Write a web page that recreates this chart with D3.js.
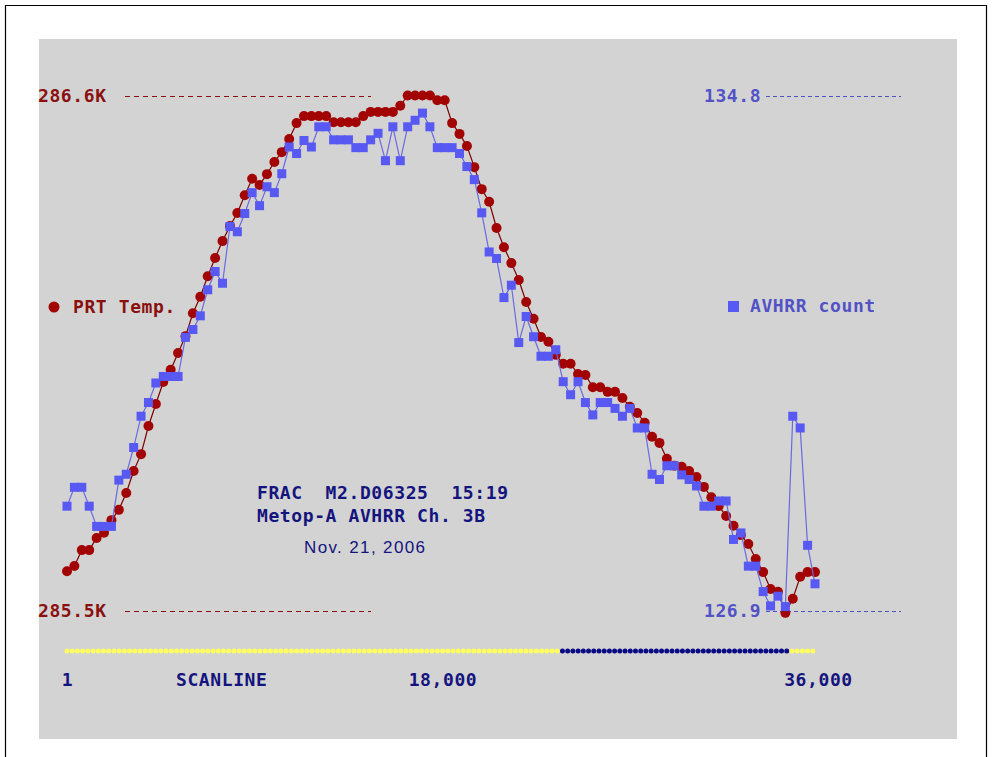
<!DOCTYPE html>
<html>
<head>
<meta charset="utf-8">
<script src="https://cdn.jsdelivr.net/npm/d3@7"></script>
<style>
  html, body { margin: 0; padding: 0; background: #fff; }
  svg { display: block; }
  .mono { font-family: "DejaVu Sans Mono", "Liberation Mono", monospace; font-weight: bold; font-size: 18px; letter-spacing: 0.6px; white-space: pre; }
</style>
</head>
<body>
<svg id="chart" width="992" height="757"></svg>
<script>
// PRT temperature vs. AVHRR Ch. 3B count along one orbit, sampled every 355 scanlines
const sampleStep = 355;

const prtTemp = [
  285.584, 285.595, 285.629, 285.629, 285.655, 285.666, 285.693, 285.715, 285.751, 285.798,
  285.834, 285.894, 285.941, 285.988, 286.014, 286.050, 286.086, 286.135, 286.170, 286.214,
  286.253, 286.289, 286.321, 286.349, 286.387, 286.422, 286.409, 286.432, 286.458, 286.479,
  286.507, 286.541, 286.556, 286.556, 286.556, 286.556, 286.543, 286.543, 286.543, 286.543,
  286.556, 286.565, 286.565, 286.565, 286.565, 286.578, 286.600, 286.600, 286.600, 286.600,
  286.590, 286.590, 286.541, 286.518, 286.492, 286.447, 286.400, 286.373, 286.317, 286.276,
  286.242, 286.206, 286.159, 286.123, 286.084, 286.074, 286.046, 286.027, 286.027, 286.005,
  286.003, 285.977, 285.977, 285.967, 285.967, 285.954, 285.935, 285.922, 285.901, 285.871,
  285.858, 285.824, 285.809, 285.807, 285.798, 285.785, 285.764, 285.742, 285.723, 285.702,
  285.681, 285.661, 285.642, 285.610, 285.582, 285.546, 285.540, 285.495, 285.525, 285.572,
  285.582, 285.582
];

const avhrrCount = [
  128.50, 128.79, 128.79, 128.50, 128.19, 128.19, 128.19, 128.90, 128.99, 129.40,
  129.88, 130.09, 130.39, 130.49, 130.49, 130.49, 131.09, 131.21, 131.42, 131.82,
  132.10, 131.92, 132.79, 132.71, 132.99, 133.31, 133.11, 133.40, 133.31, 133.60,
  134.01, 133.91, 134.11, 134.01, 134.32, 134.32, 134.12, 134.12, 134.12, 134.00,
  134.00, 134.12, 134.22, 133.80, 134.32, 133.80, 134.32, 134.42, 134.53, 134.32,
  134.00, 134.00, 134.00, 133.91, 133.71, 133.51, 133.00, 132.40, 132.30, 131.70,
  131.89, 131.01, 131.41, 131.10, 130.80, 130.80, 130.90, 130.41, 130.21, 130.41,
  130.09, 129.90, 130.09, 130.09, 130.00, 129.88, 130.00, 129.70, 129.70, 128.99,
  128.91, 129.12, 129.12, 128.98, 128.91, 128.81, 128.50, 128.50, 128.58, 128.58,
  127.99, 128.09, 127.58, 127.58, 127.19, 126.97, 127.12, 126.96, 129.88, 129.70,
  127.90, 127.31
];

// Scanline ticks along the bottom
const scanTicks = [1, 18000, 36000];
const scanTickLabels = ["1", "18,000", "36,000"];

// Temperature (left) and count (right) reference levels
const tempTicks = [286.6, 285.5];
const tempTickLabels = ["286.6K", "285.5K"];
const countTicks = [134.8, 126.9];
const countTickLabels = ["134.8", "126.9"];

// Scanline status strip: runs of scanlines and their flag (0 = day, 1 = night)
const flagFrom = [1, 23751, 34751];
const flagTo   = [23501, 34501, 35751];
const flagCode = [0, 1, 0];
const flagStep = 250;

const titleLines = ["FRAC  M2.D06325  15:19", "Metop-A AVHRR Ch. 3B"];
const dateLine = "Nov. 21, 2006";

// ---------------------------------------------------------------
const RED = "#a20404", RED_DARK = "#8a1010", RED_LINE = "#7a0000";
const BLUE = "#5858f2", BLUE_LINE = "#6a6ae0", BLUE_TEXT = "#5252c6";
const NAVY = "#14147e";

const svg = d3.select("#chart");

// frame and panel
svg.append("path")
  .attr("d", "M5.5,757 V5.5 H986.5 V757")
  .attr("fill", "none").attr("stroke", "#000").attr("stroke-width", 1.2);
svg.append("rect")
  .attr("x", 39).attr("y", 39).attr("width", 918).attr("height", 700)
  .attr("fill", "#d3d3d3");

const x = d3.scaleLinear().domain([1, 36000]).range([67, 818]);
const yT = d3.scaleLinear().domain([285.5, 286.6]).range([610.5, 95.5]);
const yC = d3.scaleLinear().domain([126.9, 134.8]).range([610.5, 95.5]);

const scanOf = i => 1 + i * sampleStep;

// left reference levels
const tempG = svg.append("g");
tempG.selectAll("line").data(tempTicks).join("line")
  .attr("x1", 125).attr("x2", 371)
  .attr("y1", d => Math.round(yT(d)) + 0.5).attr("y2", d => Math.round(yT(d)) + 0.5)
  .attr("stroke", RED_DARK).attr("stroke-width", 1).attr("stroke-dasharray", "5,4");
tempG.selectAll("text").data(tempTicks).join("text")
  .attr("class", "mono")
  .attr("x", 38).attr("y", d => yT(d)).attr("dy", "0.36em")
  .attr("fill", RED_DARK)
  .text((d, i) => tempTickLabels[i]);

// right reference levels
const countG = svg.append("g");
countG.selectAll("line").data(countTicks).join("line")
  .attr("x1", 766).attr("x2", 901)
  .attr("y1", d => Math.round(yC(d)) + 0.5).attr("y2", d => Math.round(yC(d)) + 0.5)
  .attr("stroke", BLUE_TEXT).attr("stroke-width", 1).attr("stroke-dasharray", "4,3");
countG.selectAll("text").data(countTicks).join("text")
  .attr("class", "mono")
  .attr("x", 704).attr("y", d => yC(d)).attr("dy", "0.36em")
  .attr("fill", BLUE_TEXT)
  .text((d, i) => countTickLabels[i]);

// PRT temperature series
const tempLine = d3.line().x((d, i) => x(scanOf(i))).y(d => yT(d));
svg.append("path").datum(prtTemp)
  .attr("d", tempLine).attr("fill", "none")
  .attr("stroke", RED_LINE).attr("stroke-width", 1.2);
svg.append("g").selectAll("circle").data(prtTemp).join("circle")
  .attr("cx", (d, i) => x(scanOf(i))).attr("cy", d => yT(d))
  .attr("r", 5).attr("fill", RED);

// AVHRR count series
const countLine = d3.line().x((d, i) => x(scanOf(i))).y(d => yC(d));
svg.append("path").datum(avhrrCount)
  .attr("d", countLine).attr("fill", "none")
  .attr("stroke", BLUE_LINE).attr("stroke-width", 1.2);
svg.append("g").selectAll("rect").data(avhrrCount).join("rect")
  .attr("x", (d, i) => x(scanOf(i)) - 4.5).attr("y", d => yC(d) - 4.5)
  .attr("width", 9).attr("height", 9).attr("fill", BLUE);

// legends
svg.append("circle").attr("cx", 54).attr("cy", 307).attr("r", 5.5).attr("fill", RED);
svg.append("text").attr("class", "mono").attr("x", 73).attr("y", 307).attr("dy", "0.36em")
  .attr("fill", RED_DARK).text("PRT Temp.");
svg.append("rect").attr("x", 728).attr("y", 301).attr("width", 11).attr("height", 11).attr("fill", BLUE);
svg.append("text").attr("class", "mono").attr("x", 750).attr("y", 306).attr("dy", "0.36em")
  .attr("fill", BLUE_TEXT).text("AVHRR count");

// title block
svg.append("g").selectAll("text").data(titleLines).join("text")
  .attr("class", "mono")
  .attr("x", 257).attr("y", (d, i) => 493 + i * 23).attr("dy", "0.36em")
  .attr("fill", NAVY).text(d => d);
svg.append("text")
  .attr("x", 304).attr("y", 547).attr("dy", "0.36em")
  .attr("font-family", "Liberation Sans, Arial, sans-serif").attr("font-size", 17)
  .attr("textLength", 121).attr("lengthAdjust", "spacing")
  .attr("fill", NAVY).text(dateLine);

// scanline status strip
const flagDots = [];
flagFrom.forEach((f, k) => {
  for (let s = f; s <= flagTo[k]; s += flagStep) flagDots.push({ s, code: flagCode[k] });
});
svg.append("g").selectAll("circle").data(flagDots).join("circle")
  .attr("cx", d => x(d.s)).attr("cy", 651).attr("r", 2.5)
  .attr("fill", d => d.code === 1 ? "#0a0a86" : "#ffff5e");

// scanline axis
const xAxis = d3.axisBottom(x).tickValues(scanTicks).tickSize(0)
  .tickFormat((d, i) => scanTickLabels[i]);
const axG = svg.append("g").attr("transform", "translate(0,672)").call(xAxis);
axG.select(".domain").remove();
axG.selectAll("text").attr("class", "mono").attr("fill", NAVY)
  .attr("font-family", null).attr("font-size", null).attr("y", 8).attr("dy", "0.36em");
svg.append("text").attr("class", "mono").attr("x", 176).attr("y", 680).attr("dy", "0.36em")
  .attr("fill", NAVY).text("SCANLINE");
</script>
</body>
</html>
